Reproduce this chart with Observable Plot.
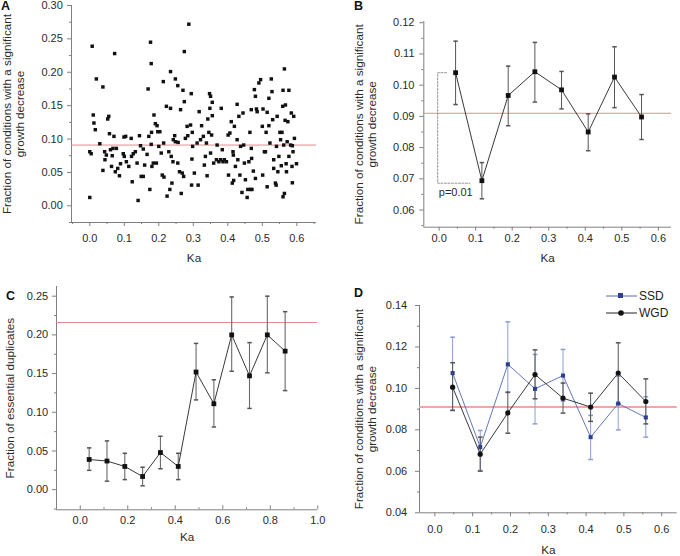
<!DOCTYPE html>
<html><head><meta charset="utf-8">
<script src="https://cdn.jsdelivr.net/npm/d3@7"></script>
<script src="https://cdn.jsdelivr.net/npm/@observablehq/plot@0.6"></script>
<style>
body{margin:0;background:#fff;}
#wrap{position:relative;width:680px;height:556px;overflow:hidden;font-family:"Liberation Sans",Arial,sans-serif;background:#fff;}
.panel{position:absolute;}
.letter{position:absolute;font-weight:bold;font-size:12.5px;line-height:13px;color:#111;z-index:5;}
.leg{position:absolute;display:flex;align-items:center;font-size:12px;color:#222;height:14px;}
.leg svg{margin-right:2px;}
</style></head><body><div id="wrap"></div>
<script>
// ---------- DATA ----------
// Panel A: scatter of Ka vs fraction
const kaA = [0.000,0.000,0.004,0.007,0.010,0.012,0.016,0.019,0.029,0.038,
0.038,0.043,0.044,0.048,0.052,0.055,0.057,0.060,0.063,0.065,
0.067,0.070,0.072,0.074,0.077,0.081,0.086,0.089,0.097,0.099,
0.104,0.100,0.106,0.113,0.120,0.121,0.123,0.126,0.132,0.137,
0.140,0.144,0.147,0.149,0.155,0.155,0.159,0.166,0.169,0.171,
0.174,0.176,0.178,0.179,0.178,0.180,0.184,0.186,0.190,0.193,
0.195,0.197,0.200,0.203,0.207,0.210,0.213,0.214,0.215,0.222,
0.224,0.229,0.232,0.234,0.234,0.236,0.238,0.241,0.242,0.246,
0.248,0.248,0.255,0.255,0.256,0.260,0.263,0.265,0.268,0.270,
0.272,0.274,0.274,0.277,0.282,0.284,0.287,0.292,0.294,0.295,
0.296,0.298,0.297,0.303,0.311,0.314,0.317,0.321,0.324,0.329,
0.332,0.335,0.338,0.340,0.342,0.345,0.347,0.348,0.350,0.350,
0.353,0.355,0.355,0.359,0.367,0.369,0.374,0.379,0.381,0.384,
0.386,0.390,0.396,0.401,0.402,0.406,0.410,0.413,0.415,0.416,
0.417,0.419,0.422,0.427,0.427,0.429,0.432,0.435,0.437,0.441,
0.444,0.446,0.448,0.451,0.456,0.458,0.461,0.464,0.466,0.468,
0.468,0.469,0.470,0.474,0.477,0.480,0.480,0.483,0.485,0.490,
0.495,0.500,0.501,0.502,0.506,0.509,0.511,0.514,0.514,0.519,
0.519,0.522,0.526,0.528,0.530,0.533,0.533,0.538,0.540,0.541,
0.543,0.545,0.548,0.551,0.553,0.555,0.557,0.559,0.560,0.560,
0.562,0.564,0.564,0.566,0.567,0.569,0.570,0.572,0.574,0.577,
0.577,0.582,0.584,0.586,0.587,0.587,0.589,0.591,0.593,0.599];
const fracA = [0.0125,0.081,0.078,0.239,0.136,0.124,0.114,0.190,0.093,0.178,
0.053,0.081,0.069,0.076,0.130,0.134,0.108,0.084,0.059,0.075,
0.086,0.104,0.228,0.051,0.086,0.056,0.045,0.063,0.078,0.103,
0.104,0.074,0.066,0.059,0.101,0.074,0.036,0.078,0.081,0.064,
0.008,0.105,0.090,0.044,0.044,0.085,0.061,0.077,0.175,0.104,
0.0245,0.245,0.213,0.110,0.092,0.059,0.064,0.136,0.123,0.064,
0.120,0.111,0.089,0.111,0.079,0.046,0.186,0.094,0.043,0.149,
0.0145,0.081,0.0245,0.201,0.146,0.074,0.034,0.066,0.099,0.105,
0.190,0.096,0.180,0.064,0.095,0.051,0.144,0.0185,0.049,0.173,
0.044,0.231,0.156,0.101,0.119,0.105,0.272,0.121,0.168,0.031,
0.070,0.089,0.110,0.049,0.094,0.031,0.141,0.099,0.120,0.104,
0.061,0.074,0.094,0.045,0.130,0.110,0.168,0.146,0.164,0.079,
0.106,0.155,0.135,0.064,0.069,0.091,0.066,0.069,0.146,0.084,
0.066,0.069,0.066,0.106,0.046,0.109,0.126,0.034,0.081,0.076,
0.038,0.119,0.059,0.152,0.099,0.069,0.134,0.046,0.089,0.020,
0.139,0.091,0.064,0.039,0.0125,0.0245,0.066,0.110,0.0245,0.144,
0.086,0.071,0.0245,0.052,0.174,0.164,0.041,0.145,0.141,0.184,
0.189,0.119,0.046,0.145,0.081,0.081,0.110,0.0285,0.140,0.120,
0.161,0.094,0.190,0.171,0.129,0.069,0.056,0.034,0.031,0.089,
0.134,0.051,0.074,0.110,0.099,0.060,0.110,0.149,0.173,0.0135,
0.091,0.205,0.0185,0.128,0.151,0.063,0.051,0.096,0.126,0.173,
0.074,0.091,0.139,0.059,0.0345,0.090,0.081,0.134,0.101,0.063];
const refA = 0.091;

// Panel B: binned means with error bars
const kaB   = [0.045, 0.117, 0.189, 0.262, 0.335, 0.408, 0.480, 0.554];
const fracB = [0.1040, 0.0694, 0.0967, 0.1043, 0.0985, 0.0850, 0.1026, 0.0898];
const loB   = [0.0938, 0.0636, 0.0870, 0.0946, 0.0924, 0.0790, 0.0928, 0.0826];
const hiB   = [0.1141, 0.0752, 0.1061, 0.1137, 0.1044, 0.0908, 0.1123, 0.0970];
const refB = 0.091;
const pLabel = "p=0.01";
const bracketX = [0.020, -0.004, -0.004, 0.084];   // dashed bracket (Ka positions)
const pLabelKa = -0.001, pLabelY = 0.0657;

// Panel C: fraction of essential duplicates
const kaC   = [0.0375,0.1125,0.1875,0.2625,0.3375,0.4125,0.4875,0.5625,0.6375,0.7125,0.7875,0.8625];
const fracC = [0.039,0.037,0.030,0.017,0.048,0.030,0.152,0.111,0.200,0.147,0.200,0.179];
const loC   = [0.025,0.011,0.013,0.005,0.027,0.013,0.116,0.081,0.153,0.105,0.151,0.128];
const hiC   = [0.054,0.063,0.047,0.029,0.069,0.047,0.189,0.142,0.249,0.190,0.250,0.230];
const refC = 0.216;

// Panel D: SSD vs WGD
const kaD    = [0.047, 0.120, 0.193, 0.265, 0.339, 0.412, 0.485, 0.558];
const ssdY   = [0.1074, 0.0717, 0.1116, 0.0998, 0.1062, 0.0765, 0.0927, 0.0860];
const ssdLo  = [0.0894, 0.0604, 0.0980, 0.0829, 0.0939, 0.0657, 0.0800, 0.0765];
const ssdHi  = [0.1247, 0.0797, 0.1321, 0.1164, 0.1188, 0.0870, 0.1058, 0.0960];
const wgdY   = [0.1006, 0.0683, 0.0882, 0.1067, 0.0953, 0.0910, 0.1074, 0.0937];
const wgdLo  = [0.0894, 0.0601, 0.0784, 0.0950, 0.0881, 0.0841, 0.0926, 0.0829];
const wgdHi  = [0.1124, 0.0765, 0.0982, 0.1186, 0.1026, 0.0977, 0.1220, 0.1046];
const refD = 0.091;
const seriesNames = ["SSD", "WGD"];

const yLabelCond = "Fraction of conditions with a significant\ngrowth decrease";
const yLabelEss = "Fraction of essential duplicates";
const xLabel = "Ka";

// ---------- HELPERS ----------
const AX = "#808080", TXT = "#2a2a2a", RED = "#e58a8a";
const wrap = document.getElementById("wrap");
const cap = {draw(ctx, size){ const w = Math.sqrt(size/Math.PI); ctx.moveTo(-w,0); ctx.lineTo(w,0);} };
const rows = (xs, ys, lo, hi) => xs.map((x,i) => ({x, y: ys[i], lo: lo ? lo[i] : null, hi: hi ? hi[i] : null}));
const range = (a, b, s) => d3.range(Math.round((b-a)/s)+1).map(i => +(a + i*s).toFixed(4));

function frame(o) {
  return [
    Plot.axisX(o.xTicks, {tickSize: o.xSize, tickPadding: o.xPad, tickFormat: d3.format(".1f"), label: null, stroke: AX, fill: TXT, fontSize: 11}),
    Plot.axisX(o.xMinor, {tickSize: o.xSize/2, tickPadding: 0, tickFormat: () => "", label: null, stroke: AX}),
    Plot.axisY(o.yTicks, {tickSize: 4, tickPadding: o.yPad, tickFormat: d3.format(".2f"), label: null, stroke: AX, fill: TXT, fontSize: 11}),
    Plot.axisY(o.yMinor, {tickSize: 2, tickPadding: 0, tickFormat: () => "", label: null, stroke: AX}),
    Plot.ruleX([o.xDomain[0]], {stroke: AX}),
    Plot.ruleY([o.yDomain[0]], {stroke: AX}),
    Plot.text([xLabel], {frameAnchor: "bottom", dy: o.kaDy, lineAnchor: "middle", textAnchor: "middle", fontSize: 11.7, fill: TXT}),
    Plot.text([o.yLabel], {frameAnchor: "left", rotate: -90, dx: o.yLabDx, textAnchor: "middle", lineAnchor: "middle", fontSize: 11.7, lineHeight: 1.12, fill: TXT})
  ];
}

function place(svg, left, top) {
  svg.classList.add("panel");
  svg.style.left = left + "px";
  svg.style.top = top + "px";
  wrap.appendChild(svg);
}
const baseStyle = {fontFamily: "'Liberation Sans', Arial, sans-serif", fontSize: "11px", color: TXT, background: "transparent", overflow: "visible"};

// ---------- PANEL A ----------
{
  const o = {xDomain: [-0.053, 0.657], yDomain: [-0.025, 0.30],
    xTicks: range(0, 0.6, 0.1), xMinor: range(-0.05, 0.65, 0.1), xSize: 4, xPad: 8,
    yTicks: range(0, 0.30, 0.05), yMinor: range(-0.025, 0.275, 0.05), yPad: 4.7,
    kaDy: 36, yLabel: yLabelCond, yLabDx: -58};
  const svg = Plot.plot({width: 340, height: 280, marginLeft: 71, marginRight: 24, marginTop: 5, marginBottom: 58,
    x: {domain: o.xDomain}, y: {domain: o.yDomain}, style: baseStyle,
    marks: [
      ...frame(o),
      Plot.ruleY([refA], {stroke: RED, strokeWidth: 1}),
      Plot.dot(kaA.map((x,i) => ({x, y: fracA[i]})), {x: "x", y: "y", symbol: "square", r: 1.95, fill: "#111", stroke: "none"})
    ]});
  place(svg, 0, 0);
}

// ---------- PANEL B ----------
{
  const o = {xDomain: [-0.042, 0.636], yDomain: [0.0545, 0.1204],
    xTicks: range(0, 0.6, 0.1), xMinor: range(0.05, 0.55, 0.1), xSize: 4, xPad: 3,
    yTicks: range(0.06, 0.12, 0.01), yMinor: range(0.055, 0.115, 0.01), yPad: 5.3,
    kaDy: 31, yLabel: yLabelCond, yLabDx: -58.8};
  const d = rows(kaB, fracB, loB, hiB);
  const br = bracketX.map((x,i) => ({x, y: i < 2 ? fracB[0] : fracB[1] - 0.0008}));
  const svg = Plot.plot({width: 340, height: 280, marginLeft: 83.3, marginRight: 9, marginTop: 21, marginBottom: 53.3,
    x: {domain: o.xDomain}, y: {domain: o.yDomain}, style: baseStyle,
    marks: [
      ...frame(o),
      Plot.ruleY([refB], {stroke: RED, strokeWidth: 1}),
      Plot.line(br, {x: "x", y: "y", stroke: "#888", strokeWidth: 0.9, strokeDasharray: "2,1.5"}),
      Plot.text([pLabel], {x: pLabelKa, y: pLabelY, textAnchor: "start", fontSize: 11, fill: TXT}),
      Plot.ruleX(d, {x: "x", y1: "lo", y2: "hi", stroke: "#555", strokeWidth: 1}),
      Plot.dot(d, {x: "x", y: "lo", symbol: cap, r: 2.2, stroke: "#555", fill: "none"}),
      Plot.dot(d, {x: "x", y: "hi", symbol: cap, r: 2.2, stroke: "#555", fill: "none"}),
      Plot.line(d, {x: "x", y: "y", stroke: "#222", strokeWidth: 0.9}),
      Plot.dot(d, {x: "x", y: "y", symbol: "square", r: 2.7, fill: "#111", stroke: "none"})
    ]});
  place(svg, 340, 0);
}

// ---------- PANEL C ----------
{
  const o = {xDomain: [-0.1, 1.0], yDomain: [-0.026, 0.2625],
    xTicks: range(0, 1.0, 0.2), xMinor: range(-0.1, 0.9, 0.2), xSize: -4, xPad: 10.7,
    yTicks: range(0, 0.25, 0.05), yMinor: range(-0.025, 0.225, 0.05), yPad: 4.3,
    kaDy: 27.4, yLabel: yLabelEss, yLabDx: -46.5};
  const d = rows(kaC, fracC, loC, hiC);
  const svg = Plot.plot({width: 340, height: 276, marginLeft: 56, marginRight: 22.7, marginTop: 6, marginBottom: 46.7,
    x: {domain: o.xDomain}, y: {domain: o.yDomain}, style: baseStyle,
    marks: [
      ...frame(o),
      Plot.ruleY([refC], {stroke: RED, strokeWidth: 1}),
      Plot.ruleX(d, {x: "x", y1: "lo", y2: "hi", stroke: "#6a6a6a", strokeWidth: 1.1}),
      Plot.dot(d, {x: "x", y: "lo", symbol: cap, r: 2.2, stroke: "#555", fill: "none"}),
      Plot.dot(d, {x: "x", y: "hi", symbol: cap, r: 2.2, stroke: "#555", fill: "none"}),
      Plot.line(d, {x: "x", y: "y", stroke: "#222", strokeWidth: 0.9}),
      Plot.dot(d, {x: "x", y: "y", symbol: "square", r: 2.7, fill: "#111", stroke: "none"})
    ]});
  place(svg, 0, 280);
}

// ---------- PANEL D ----------
{
  const o = {xDomain: [-0.0406, 0.641], yDomain: [0.04, 0.14],
    xTicks: range(0, 0.6, 0.1), xMinor: range(0.05, 0.55, 0.1), xSize: 4, xPad: 8,
    yTicks: range(0.04, 0.14, 0.02), yMinor: range(0.05, 0.13, 0.02), yPad: 8.3,
    kaDy: 37.7, yLabel: yLabelCond, yLabDx: -54.5};
  const s = rows(kaD, ssdY, ssdLo, ssdHi);
  const w = rows(kaD, wgdY, wgdLo, wgdHi);
  const LBLUE = "#8c9dd2";
  const svg = Plot.plot({width: 340, height: 276, marginLeft: 79, marginRight: 3.3, marginTop: 25, marginBottom: 43.7,
    x: {domain: o.xDomain}, y: {domain: o.yDomain}, style: baseStyle,
    marks: [
      ...frame(o),
      Plot.ruleY([refD], {stroke: "#f2a6a6", strokeWidth: 2}),
      Plot.ruleX(s, {x: "x", y1: "lo", y2: "hi", stroke: LBLUE, strokeWidth: 1}),
      Plot.dot(s, {x: "x", y: "lo", symbol: cap, r: 2.4, stroke: LBLUE, fill: "none"}),
      Plot.dot(s, {x: "x", y: "hi", symbol: cap, r: 2.4, stroke: LBLUE, fill: "none"}),
      Plot.ruleX(w, {x: "x", y1: "lo", y2: "hi", stroke: "#555", strokeWidth: 1}),
      Plot.dot(w, {x: "x", y: "lo", symbol: cap, r: 2.4, stroke: "#555", fill: "none"}),
      Plot.dot(w, {x: "x", y: "hi", symbol: cap, r: 2.4, stroke: "#555", fill: "none"}),
      Plot.line(s, {x: "x", y: "y", stroke: "#5466b0", strokeWidth: 0.9}),
      Plot.line(w, {x: "x", y: "y", stroke: "#222", strokeWidth: 0.9}),
      Plot.dot(s, {x: "x", y: "y", symbol: "square", r: 2.3, fill: "#2c3f8f", stroke: "none"}),
      Plot.dot(w, {x: "x", y: "y", r: 2.6, fill: "#111", stroke: "none"})
    ]});
  place(svg, 340, 280);

  // legend
  const items = [
    {name: seriesNames[0], color: "#5466b0", mark: `<rect x="12" y="3" width="5" height="5" fill="#2c3f8f"/>`, top: 289},
    {name: seriesNames[1], color: "#222", mark: `<circle cx="15" cy="6" r="2.8" fill="#111"/>`, top: 306}
  ];
  for (const it of items) {
    const div = document.createElement("div");
    div.className = "leg";
    div.style.left = "606px";
    div.style.top = it.top + "px";
    div.innerHTML = `<svg width="31" height="12"><line x1="0" x2="31" y1="6" y2="6" stroke="${it.color}" stroke-width="1"/>${it.mark}</svg><span>${it.name}</span>`;
    wrap.appendChild(div);
  }
}

// panel letters
for (const [t, l, tp] of [["A", 1, 0], ["B", 354, 0], ["C", 6, 290], ["D", 354, 287]]) {
  const div = document.createElement("div");
  div.className = "letter";
  div.textContent = t;
  div.style.left = l + "px";
  div.style.top = tp + "px";
  wrap.appendChild(div);
}
</script></body></html>
